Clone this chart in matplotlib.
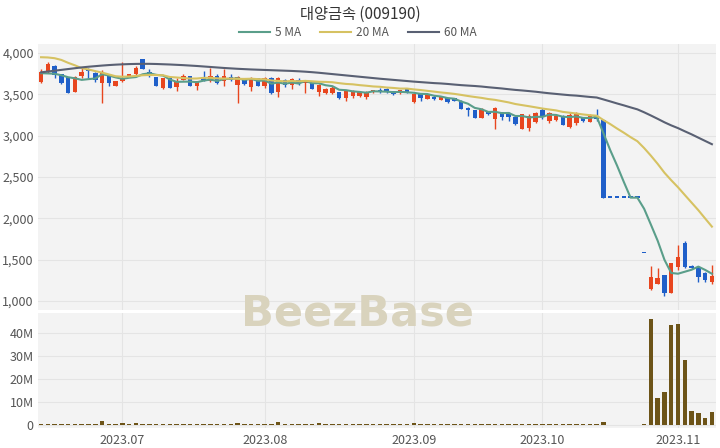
import pandas as pd
import numpy as np
import matplotlib
matplotlib.use('Agg')
import matplotlib.pyplot as plt

plt.rcParams['font.family'] = ['Noto Sans CJK KR', 'DejaVu Sans']

##################
### INPUT DATA ###
##################

title = '대양금속 (009190)'

# KRX trading days (market holidays removed)
holidays = ['2023-08-15', '2023-09-28', '2023-09-29', '2023-10-03', '2023-10-09']
dates = pd.bdate_range('2023-06-15', '2023-11-08', freq='C', holidays=holidays)

opens = [3645, 3765, 3845, 3745, 3705, 3530, 3725, 3800, 3760, 3640,
         3735, 3600, 3655, 3715, 3745, 3925, 3775, 3705, 3575, 3700,
         3590, 3675, 3715, 3595, 3710, 3660, 3725, 3655, 3710, 3615,
         3695, 3590, 3695, 3605, 3700, 3525, 3675, 3615, 3670, 3635,
         3635, 3530, 3515, 3515, 3525, 3455, 3485, 3485, 3470, 3525,
         3550, 3560, 3535, 3515, 3565, 3405, 3500, 3445, 3470, 3432,
         3450, 3450, 3420, 3338, 3310, 3218, 3290, 3200, 3282, 3270,
         3230, 3080, 3090, 3162, 3310, 3178, 3190, 3240, 3110, 3150,
         3210, 3170, 3240, 3190, 2250, 2250, 2250, 2250, 2250, 1575,
         1140, 1205, 1310, 1100, 1410, 1705, 1420, 1415, 1335, 1235]
highs = [3800, 3895, 3855, 3750, 3710, 3715, 3815, 3815, 3765, 3795,
         3740, 3660, 3885, 3750, 3845, 3930, 3800, 3710, 3700, 3705,
         3695, 3745, 3720, 3665, 3780, 3815, 3740, 3805, 3740, 3720,
         3700, 3705, 3700, 3705, 3705, 3705, 3690, 3700, 3700, 3675,
         3640, 3620, 3580, 3600, 3530, 3545, 3550, 3540, 3545, 3550,
         3570, 3570, 3545, 3555, 3570, 3510, 3510, 3500, 3490, 3475,
         3460, 3455, 3430, 3350, 3315, 3330, 3300, 3350, 3290, 3280,
         3240, 3265, 3260, 3285, 3330, 3290, 3265, 3245, 3270, 3290,
         3215, 3265, 3320, 3200, 2250, 2250, 2250, 2250, 2250, 1575,
         1420, 1395, 1320, 1460, 1680, 1720, 1430, 1420, 1355, 1435]
lows = [3635, 3755, 3695, 3620, 3515, 3525, 3695, 3695, 3650, 3390,
        3600, 3595, 3650, 3710, 3725, 3800, 3710, 3595, 3560, 3575,
        3540, 3670, 3600, 3550, 3660, 3650, 3630, 3605, 3665, 3390,
        3615, 3540, 3600, 3570, 3505, 3470, 3590, 3565, 3610, 3510,
        3560, 3485, 3505, 3500, 3448, 3420, 3450, 3470, 3445, 3515,
        3520, 3520, 3495, 3505, 3510, 3390, 3420, 3440, 3435, 3428,
        3400, 3415, 3318, 3240, 3212, 3212, 3255, 3080, 3190, 3180,
        3130, 3075, 3060, 3155, 3205, 3150, 3180, 3125, 3090, 3130,
        3170, 3160, 3175, 2250, 2250, 2250, 2250, 2250, 2250, 1575,
        1130, 1200, 1060, 1095, 1375, 1400, 1390, 1235, 1235, 1210]
closes = [3775, 3865, 3735, 3635, 3520, 3710, 3770, 3780, 3675, 3775,
          3635, 3655, 3695, 3740, 3815, 3805, 3715, 3600, 3695, 3580,
          3660, 3725, 3605, 3660, 3675, 3725, 3635, 3725, 3675, 3710,
          3620, 3700, 3605, 3700, 3512, 3700, 3615, 3685, 3635, 3670,
          3565, 3610, 3565, 3580, 3452, 3540, 3540, 3530, 3530, 3540,
          3532, 3525, 3500, 3550, 3515, 3500, 3460, 3490, 3445, 3470,
          3405, 3420, 3322, 3312, 3218, 3322, 3258, 3330, 3230, 3230,
          3138, 3258, 3240, 3270, 3230, 3270, 3240, 3130, 3250, 3270,
          3178, 3240, 3200, 2250, 2250, 2250, 2250, 2250, 2250, 1575,
          1290, 1275, 1100, 1455, 1530, 1410, 1395, 1290, 1255, 1300]

# volume in millions of shares
volume = [0.3, 0.2, 0.2, 0.3, 0.2, 0.3, 0.2, 0.2, 0.3, 1.6,
          0.4, 0.3, 0.9, 0.3, 0.8, 0.3, 0.2, 0.2, 0.2, 0.3,
          0.2, 0.2, 0.2, 0.2, 0.5, 0.2, 0.2, 0.4, 0.2, 1.0,
          0.2, 0.2, 0.2, 0.2, 0.3, 1.1, 0.3, 0.2, 0.2, 0.2,
          0.2, 0.6, 0.2, 0.2, 0.3, 0.2, 0.2, 0.2, 0.2, 0.2,
          0.2, 0.2, 0.2, 0.2, 0.2, 0.6, 0.2, 0.2, 0.2, 0.2,
          0.2, 0.2, 0.3, 0.2, 0.2, 0.3, 0.2, 0.3, 0.2, 0.2,
          0.2, 0.5, 0.2, 0.2, 0.2, 0.2, 0.2, 0.2, 0.2, 0.2,
          0.2, 0.2, 0.2, 1.1, 0.0, 0.0, 0.0, 0.0, 0.0, 0.2,
          45.9, 11.7, 14.3, 43.4, 44.0, 28.3, 5.9, 5.2, 2.9, 5.5]

# moving averages before enough history is on the chart
ma5_head = [3755, 3752, 3748, 3730]
ma20_head = [3948, 3945, 3936, 3915, 3880, 3850, 3815, 3800, 3780, 3762,
             3740, 3718, 3712, 3715, 3722, 3730, 3733, 3733, 3730]
ma60_head = [3765, 3775, 3785, 3795, 3805, 3815, 3825, 3833, 3840, 3847,
             3853, 3858, 3862, 3865, 3867, 3868, 3868, 3866, 3863, 3860,
             3856, 3852, 3847, 3842, 3836, 3830, 3824, 3818, 3813, 3808,
             3804, 3800, 3797, 3794, 3791, 3788, 3785, 3782, 3778, 3773,
             3767, 3760, 3752, 3744, 3736, 3728, 3720, 3712, 3704, 3696,
             3688, 3681, 3674, 3667, 3660, 3653, 3647, 3641, 3635]

###################
### PREPARE DATA ###
###################

o = np.array(opens, dtype=float)
h = np.array(highs, dtype=float)
l = np.array(lows, dtype=float)
c = np.array(closes, dtype=float)
x = np.arange(len(dates))

close_s = pd.Series(c)
ma5 = close_s.rolling(5).mean().to_numpy()
ma5[:len(ma5_head)] = ma5_head
ma20 = close_s.rolling(20).mean().to_numpy()
ma20[:len(ma20_head)] = ma20_head
ma60 = close_s.rolling(60).mean().to_numpy()
ma60[:len(ma60_head)] = ma60_head

up = c > o
col_up = '#e8461f'
col_dn = '#1f5fc9'
colors = np.where(up, col_up, col_dn)

# first trading day of each month -> tick
month_key = dates.strftime('%Y.%m')
tick_pos = [i for i in range(1, len(dates)) if month_key[i] != month_key[i - 1]]
tick_lab = [month_key[i] for i in tick_pos]

####################
### PLOT RESULTS ###
####################

fig = plt.figure(figsize=(7.2, 4.48), dpi=100)
bg = '#f3f3f3'
grid_c = '#e4e4e4'
txt_c = '#555555'

ax = fig.add_axes([0.0528, 0.308, 0.9416, 0.594])
ax2 = fig.add_axes([0.0528, 0.0446, 0.9416, 0.2567])

for a in (ax, ax2):
    a.set_facecolor(bg)
    for s in a.spines.values():
        s.set_visible(False)
    a.grid(True, color=grid_c, linewidth=0.8)
    a.set_axisbelow(True)
    a.tick_params(length=0, labelsize=9, labelcolor=txt_c, pad=3)
    a.set_xlim(-0.45, 99.6)
    a.set_xticks(tick_pos)

# candles
w = 0.66
ax.vlines(x, l, h, colors=colors, linewidth=1.0, zorder=2)
body_h = np.maximum(np.abs(c - o), 22)
ax.bar(x, body_h, w, bottom=np.minimum(o, c), color=colors, linewidth=0, zorder=3)

# moving averages
l5, = ax.plot(x, ma5, color='#5a9e8a', linewidth=1.5, zorder=4)
l20, = ax.plot(x, ma20, color='#d6c262', linewidth=1.5, zorder=4)
l60, = ax.plot(x, ma60, color='#596073', linewidth=1.5, zorder=4)

ax.set_ylim(891, 4109)
yt = np.arange(1000, 4001, 500)
ax.set_yticks(yt)
ax.set_yticklabels([f'{v:,}' for v in yt])
ax.set_xticklabels([])

# volume
ax2.bar(x, volume, 0.66, color='#6d5418', linewidth=0, zorder=3)
ax2.set_ylim(-1.4, 48.7)
vt = np.arange(0, 41, 10)
ax2.set_yticks(vt)
ax2.set_yticklabels(['0'] + [f'{v}M' for v in vt[1:]])
ax2.set_xticklabels(tick_lab)
ax2.tick_params(axis='x', pad=4)

fig.text(0.5, 0.969, title, ha='center', va='center', fontsize=11, color='#333333')
fig.legend([l5, l20, l60], ['5 MA', '20 MA', '60 MA'], loc='center',
           bbox_to_anchor=(0.497, 0.928), ncol=3, frameon=False, fontsize=8.5,
           handlelength=2.6, columnspacing=1.6, handletextpad=0.45,
           labelcolor=txt_c)

# watermark
fig.text(0.497, 1 - 326 / 448, 'BeezBase', ha='center', va='baseline', fontsize=31,
         fontweight='bold', color='#d9d3bd', family='DejaVu Sans', zorder=10)

fig.savefig('out.png', dpi=100)
